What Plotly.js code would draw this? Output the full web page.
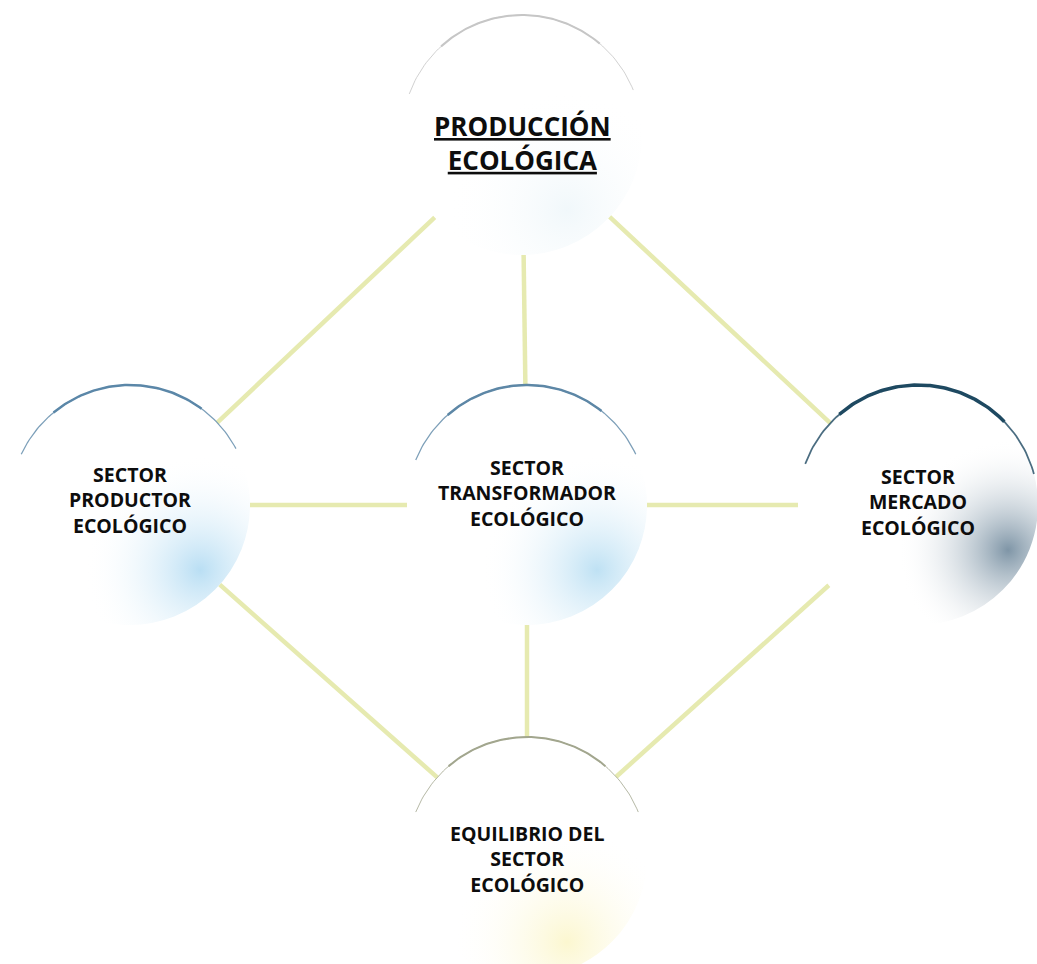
<!DOCTYPE html>
<html>
<head>
<meta charset="utf-8">
<script src="https://cdn.plot.ly/plotly-3.0.1.min.js"></script>
<style>html,body{margin:0;padding:0;background:#fff;}#chart{width:1037px;height:964px;}</style>
</head>
<body>
<div id="chart"></div>
<script>
// ---- data ----
const nodeLabels = [
  'PRODUCCIÓN<br>ECOLÓGICA',
  'SECTOR<br>PRODUCTOR<br>ECOLÓGICO',
  'SECTOR<br>TRANSFORMADOR<br>ECOLÓGICO',
  'SECTOR<br>MERCADO<br>ECOLÓGICO',
  'EQUILIBRIO DEL<br>SECTOR<br>ECOLÓGICO'
];
const nodeX = [522, 130, 527, 918, 527];
const nodeY = [135, 505, 505, 505, 857];
const edgeFrom = [0, 0, 0, 1, 2, 1, 2, 3];
const edgeTo   = [1, 2, 3, 2, 3, 4, 4, 4];

// ---- styles ----
const R = 120;
const tintColor = ['rgba(218,236,244,0.55)', 'rgba(150,206,238,0.95)', 'rgba(158,210,238,0.95)', 'rgba(62,96,122,0.95)', 'rgba(250,242,180,0.9)'];
const tintDx = [45, 70, 70, 90, 40];
const tintDy = [75, 65, 65, 45, 85];
const tintSize = [240, 230, 230, 220, 230];
const arcColor = ['#c6c6c6', '#5b87a8', '#5d87a6', '#1e4961', '#a2a68e'];
const arcWidth = [2, 2.5, 2.5, 3.5, 2];
const arcStart = [160, 155, 158, 160, 158];
const arcEnd = [22, 28, 25, 15, 22];
const labelShift = [-8, 5, 12, 3, -2];
const labelSize = [26, 19.5, 19.5, 19.5, 19.5];

const traces = [];

traces.push({x: nodeX, y: nodeY, mode: 'markers', type: 'scatter', hoverinfo: 'skip',
  marker: {size: 2 * R, color: '#ffffff', line: {width: 0}}});
traces.push({x: nodeX.map((v, i) => v + tintDx[i]), y: nodeY.map((v, i) => v + tintDy[i]),
  mode: 'markers', type: 'scatter', hoverinfo: 'skip',
  marker: {size: tintSize, color: 'rgba(255,255,255,0)', line: {width: 0},
    gradient: {type: 'radial', color: tintColor}}});
const ringW = 95;
traces.push({x: nodeX, y: nodeY, mode: 'markers', type: 'scatter', hoverinfo: 'skip',
  marker: {size: 2 * R + ringW, color: 'rgba(255,255,255,0)', line: {width: ringW, color: '#ffffff'}}});

const ex = [], ey = [];
for (let k = 0; k < edgeFrom.length; k++) {
  const a = edgeFrom[k], b = edgeTo[k];
  const dx = nodeX[b] - nodeX[a], dy = nodeY[b] - nodeY[a];
  const L = Math.hypot(dx, dy);
  const ux = dx / L, uy = dy / L;
  ex.push(nodeX[a] + ux * R, nodeX[b] - ux * R, null);
  ey.push(nodeY[a] + uy * R, nodeY[b] - uy * R, null);
}
traces.push({x: ex, y: ey, mode: 'lines', type: 'scatter', hoverinfo: 'skip',
  line: {color: 'rgb(230,234,176)', width: 4.5}});

function arcPts(i, a0, a1) {
  const xs = [], ys = [];
  const n = 80;
  for (let j = 0; j <= n; j++) {
    const t = (a0 + (a1 - a0) * j / n) * Math.PI / 180;
    xs.push(nodeX[i] + R * Math.cos(t));
    ys.push(nodeY[i] - R * Math.sin(t));
  }
  return [xs, ys];
}
for (let i = 0; i < nodeX.length; i++) {
  const [x1, y1] = arcPts(i, arcStart[i], arcEnd[i]);
  traces.push({x: x1, y: y1, mode: 'lines', type: 'scatter', hoverinfo: 'skip',
    line: {color: arcColor[i], width: arcWidth[i] * 0.5}, opacity: 0.8});
  const mid = (arcStart[i] + arcEnd[i]) / 2, half = (arcStart[i] - arcEnd[i]) * 0.3;
  const [x2, y2] = arcPts(i, mid + half, mid - half);
  traces.push({x: x2, y: y2, mode: 'lines', type: 'scatter', hoverinfo: 'skip',
    line: {color: arcColor[i], width: arcWidth[i]}});
}

const annotations = nodeLabels.map((t, i) => ({
  x: nodeX[i], y: nodeY[i], xref: 'x', yref: 'y', showarrow: false,
  text: i === 0 ? t.split('<br>').map(s => '<u>' + s + '</u>').join('<br>') : t,
  yshift: labelShift[i],
  font: {family: 'Open Sans, DejaVu Sans, sans-serif', size: labelSize[i], color: '#0d0d0d', weight: 'bold'},
  align: 'center'
}));

const layout = {
  width: 1037, height: 964,
  margin: {l: 0, r: 0, t: 0, b: 0},
  paper_bgcolor: '#ffffff', plot_bgcolor: '#ffffff',
  showlegend: false,
  xaxis: {range: [0, 1037], visible: false, fixedrange: true},
  yaxis: {range: [964, 0], visible: false, fixedrange: true},
  annotations: annotations
};

Plotly.newPlot('chart', traces, layout, {displayModeBar: false, staticPlot: true});
</script>
</body>
</html>
